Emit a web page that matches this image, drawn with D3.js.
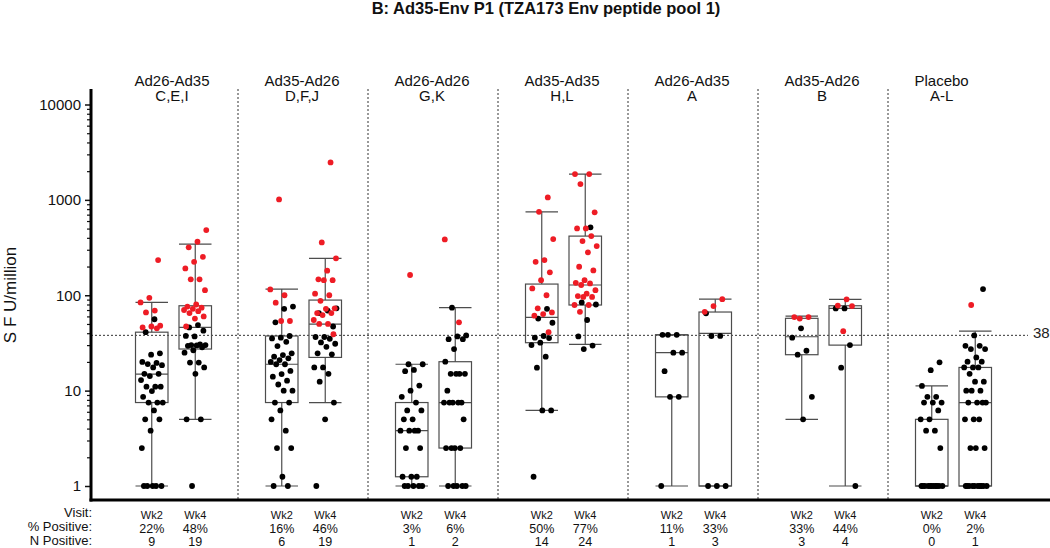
<!DOCTYPE html>
<html><head><meta charset="utf-8">
<script src="https://cdn.jsdelivr.net/npm/d3@7/dist/d3.min.js"></script>
<style>
html,body{margin:0;padding:0;background:#fff;}
text{font-family:"Liberation Sans",Arial,sans-serif;}
</style></head>
<body><svg id="chart" width="1050" height="548"></svg>
<script>
// ---------- data ----------
const title = "B: Ad35-Env P1 (TZA173 Env peptide pool 1)";
const yLabel = "S F U/million";
const regimens = ["Ad26-Ad35","Ad35-Ad26","Ad26-Ad26","Ad35-Ad35","Ad26-Ad35","Ad35-Ad26","Placebo"];
const groupLetters = ["C,E,I","D,F,J","G,K","H,L","A","B","A-L"];
const visits = ["Wk2","Wk4"];
const pctPositive = [["22%","48%"],["16%","46%"],["3%","6%"],["50%","77%"],["11%","33%"],["33%","44%"],["0%","2%"]];
const nPositive = [[9,19],[6,19],[1,2],[14,24],[1,3],[3,4],[0,1]];
const threshold = 38;
const yTicksMajor = [1,10,100,1000,10000];

// box statistics per regimen / visit: [low whisker, Q1, median, Q3, high whisker]
const boxWk2 = [
  [1,7.5,14.9,41,84],[1,7.5,18.9,37.4,116],[1,1.25,3.8,7.5,18.9],[6.2,31.8,58.6,131,750],
  [1,8.6,25,38.5,38.5],[5,23.8,36.7,57.3,60.5],[1,1,1,5,11.2]];
const boxWk4 = [
  [5,27.3,46,77.6,344],[7.5,22.3,49.9,89,244],[1,2.5,7.5,20.1,74],[30.6,79,128,417,1864],
  [1,1,39.8,66.7,91],[1,30,72.8,77.6,90.6],[1,1,7.5,17.5,42]];

// positive (red) responses
const posWk2 = [
  [234,94,84,69,66,48,47,46,45],
  [1010,115,100,83.5,53.7,53.7],
  [163],
  [1062,750,388,234,224,174,144,118,100,73,66,63.5,61,41],
  [],
  [59,59,57],
  []];
const posWk4 = [
  [482,364,318,253,224,191,147,147,113,80,76,74,72,70,68,65,60,57,47],
  [2470,358,244,181,147,144,144,104,100,87.5,73,72,65,65,62,55,50,50,39],
  [385,52],
  [1864,1864,1465,740,502,502,417,370,328,282,199,182,144,135,133,128,113,104,98,96,96,79,79,67],
  [91,77,67],
  [90.6,78,77,42],
  [79]];
// negative (black) responses
const negWk2 = [
  [56,41,24.6,23.8,20,19.5,19,18.5,17.5,15,15,14.2,12.9,11,11,11,9.9,8.6,7.5,7.5,7.5,6.2,5,5,3.8,2.5,1,1,1,1,1],
  [76,72,52,37.4,35.9,35.3,32.5,29.3,24.6,23.6,22.7,21.8,20.9,20,18.9,18.9,16.1,14.9,14,12.7,11.6,10,10,7.5,7.5,6.2,5,3.8,2.5,2.5,1.25,1,1],
  [18.9,18.9,16.5,16,11.3,10,8.6,7.5,6.2,6.2,5,5,3.8,3.8,3.8,3.8,2.5,2.5,1.25,1.25,1.25,1,1,1,1,1],
  [72,57,51.5,37.4,35.9,35.6,31.8,30,22.7,17.4,6.2,6.2,1.25],
  [38.5,38.5,38.5,25,25,16,8.6,8.6,1],
  [45,35.9,26.2,23.8,8.6,5],
  [19.8,16.4,11.2,8.6,8.6,7.5,7.5,7.5,6.2,5,5,3.8,3.8,2.5,1,1,1,1,1,1,1,1,1,1,1]];
const negWk4 = [
  [48.7,46,42.5,37,37.5,30.5,30,30,29.8,29.5,28.5,26.5,25,19.7,19.7,17.5,15,5,5,1],
  [73,69,65,47,36.5,36.5,35,32,31,28.8,24.6,24,17.5,17.5,15,12.4,7.5,5,1],
  [74,37.9,37,34.6,34.6,27.3,20.1,15,15,15,15,10,7.5,7.5,7.5,7.5,7.5,5,2.5,2.5,2.5,2.5,1,1,1,1,1],
  [515,84,80,55,37,29.7,27.3],
  [64.6,37.5,37.4,1,1,1],
  [72.8,72.8,30,17.4,1],
  [116,37.9,29.5,29.5,27.3,27.3,22.3,20.1,20.1,17.5,17.5,17.5,15,12.4,12.4,10,10,10,7.5,7.5,7.5,7.5,5,5,5,2.5,2.5,2.5,1,1,1,1,1,1,1,1,1,1]];

// ---------- layout ----------
const axisX = 91, plotTop = 89, plotBottom = 500, plotRight = 1050;
const RED = "#ee1c25", BOXC = "#4d4d4d";

const svg = d3.select("#chart");

const y = d3.scaleLog().domain([1, 10000]).range([486, 104.5]);
const xPanel = d3.scaleBand().domain(d3.range(regimens.length)).range([108, 1018]).padding(0);
const xVisit = d3.scaleBand().domain(visits).range([22, 109]).padding(0);
const boxW = 32.5;
const cx = (i, v) => xPanel(i) + xVisit(v) + xVisit.bandwidth() / 2;

// title
svg.append("text").attr("x", 546).attr("y", 14).attr("text-anchor", "middle")
  .attr("font-weight", "bold").attr("font-size", 16.5).attr("fill", "#111").text(title);

// y label
svg.append("text").attr("transform", "translate(16,295) rotate(-90)")
  .attr("text-anchor", "middle").attr("font-size", 17).attr("fill", "#111").text(yLabel);

// y axis ticks
const minorVals = [];
for (let d = 0; d < 4; d++) for (let k = 2; k <= 9; k++) minorVals.push(k * Math.pow(10, d));
const gMinor = svg.append("g").attr("transform", `translate(${axisX},0)`)
  .call(d3.axisLeft(y).tickValues(minorVals).tickSize(4).tickFormat(""));
gMinor.select(".domain").remove();
gMinor.selectAll("line").attr("stroke", "#111").attr("stroke-width", 1.2);
const gMajor = svg.append("g").attr("transform", `translate(${axisX},0)`)
  .call(d3.axisLeft(y).tickValues(yTicksMajor).tickSize(6).tickPadding(4).tickFormat(d3.format("d")));
gMajor.select(".domain").remove();
gMajor.selectAll("line").attr("stroke", "#111").attr("stroke-width", 1.5);
gMajor.selectAll("text").attr("font-size", 15).attr("fill", "#111")
  .attr("font-family", "'Liberation Sans',Arial,sans-serif");

// panel separators
svg.append("g").selectAll("line").data(d3.range(1, regimens.length)).join("line")
  .attr("x1", i => xPanel(i)).attr("x2", i => xPanel(i))
  .attr("y1", plotTop).attr("y2", plotBottom)
  .attr("stroke", "#333").attr("stroke-width", 1).attr("stroke-dasharray", "2,2");

// threshold line
svg.append("line").attr("x1", axisX).attr("x2", 1028)
  .attr("y1", y(threshold)).attr("y2", y(threshold))
  .attr("stroke", "#333").attr("stroke-width", 1).attr("stroke-dasharray", "2,2");
svg.append("text").attr("x", 1033).attr("y", y(threshold) + 3)
  .attr("font-size", 15).attr("fill", "#222").text(threshold);

// panel labels
regimens.forEach((r, i) => {
  const left = cx(i, "Wk2") - boxW / 2 - 1;
  const t1 = svg.append("text").attr("x", left).attr("y", 86).attr("font-size", 15)
    .attr("fill", "#111").text(r);
  const w = t1.node().getComputedTextLength();
  t1.attr("x", left + w / 2).attr("text-anchor", "middle");
  svg.append("text").attr("x", left + w / 2).attr("y", 101).attr("text-anchor", "middle")
    .attr("font-size", 15).attr("fill", "#111").text(groupLetters[i]);
});

// boxes
const boxes = [];
regimens.forEach((r, i) => {
  boxes.push({ i, v: "Wk2", s: boxWk2[i] });
  boxes.push({ i, v: "Wk4", s: boxWk4[i] });
});
const gb = svg.append("g").attr("fill", "none").attr("stroke", BOXC).attr("stroke-width", 1.2);
boxes.forEach(b => {
  const c = cx(b.i, b.v), [lo, q1, md, q3, hi] = b.s;
  gb.append("line").attr("x1", c).attr("x2", c).attr("y1", y(hi)).attr("y2", y(q3));
  gb.append("line").attr("x1", c).attr("x2", c).attr("y1", y(q1)).attr("y2", y(lo));
  gb.append("line").attr("x1", c - boxW / 2).attr("x2", c + boxW / 2).attr("y1", y(hi)).attr("y2", y(hi));
  gb.append("line").attr("x1", c - boxW / 2).attr("x2", c + boxW / 2).attr("y1", y(lo)).attr("y2", y(lo));
  gb.append("rect").attr("x", c - boxW / 2).attr("width", boxW)
    .attr("y", y(q3)).attr("height", y(q1) - y(q3));
  gb.append("line").attr("x1", c - boxW / 2).attr("x2", c + boxW / 2).attr("y1", y(md)).attr("y2", y(md));
});

// points with deterministic (golden-ratio) jitter
const pts = [];
regimens.forEach((r, i) => {
  [["Wk2", posWk2[i], negWk2[i]], ["Wk4", posWk4[i], negWk4[i]]].forEach(([v, pos, neg]) => {
    const all = neg.map(val => ({ val, pos: false })).concat(pos.map(val => ({ val, pos: true })));
    all.forEach((p, k) => {
      const j = (((k + 1) * 0.6180339887 + i * 0.37) % 1) - 0.5;
      pts.push({ x: cx(i, v) + j * 23, val: p.val, pos: p.pos });
    });
  });
});
svg.append("g").selectAll("circle").data(pts).join("circle")
  .attr("cx", d => d.x).attr("cy", d => y(d.val)).attr("r", 2.9)
  .attr("fill", d => d.pos ? RED : "#000");

// axes frame
svg.append("line").attr("x1", axisX).attr("x2", axisX).attr("y1", plotTop).attr("y2", plotBottom + 1.5)
  .attr("stroke", "#000").attr("stroke-width", 3);
svg.append("line").attr("x1", axisX - 1.5).attr("x2", plotRight).attr("y1", plotBottom).attr("y2", plotBottom)
  .attr("stroke", "#000").attr("stroke-width", 3);

// bottom table
const rowLabels = [["Visit:", 517], ["% Positive:", 531], ["N Positive:", 545]];
svg.append("g").selectAll("text").data(rowLabels).join("text")
  .attr("x", 92).attr("y", d => d[1]).attr("text-anchor", "end")
  .attr("font-size", 13).attr("fill", "#111").text(d => d[0]);
regimens.forEach((r, i) => {
  visits.forEach((v, k) => {
    const c = cx(i, v);
    svg.append("text").attr("x", c).attr("y", 519).attr("text-anchor", "middle")
      .attr("font-size", 11).attr("fill", "#111").text(v);
    svg.append("text").attr("x", c).attr("y", 533).attr("text-anchor", "middle")
      .attr("font-size", 12.5).attr("fill", "#111").text(pctPositive[i][k]);
    svg.append("text").attr("x", c).attr("y", 546).attr("text-anchor", "middle")
      .attr("font-size", 12.5).attr("fill", "#111").text(nPositive[i][k]);
  });
});
</script></body></html>
